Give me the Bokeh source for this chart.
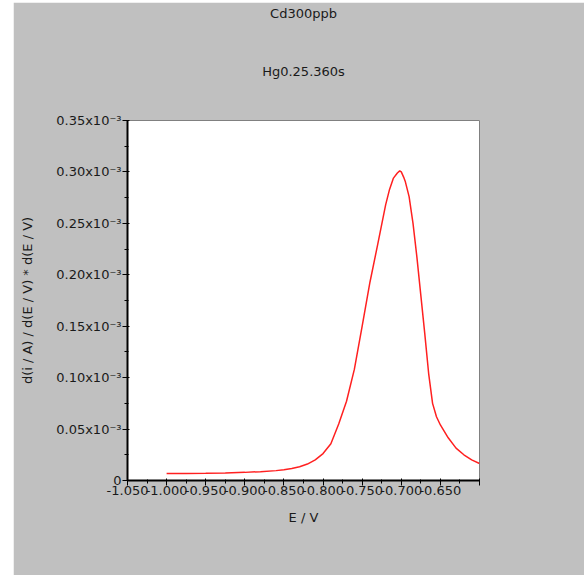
from bokeh.plotting import figure
from bokeh.models import (FixedTicker, CustomJSTickFormatter, Range1d, Spacer, Title)
from bokeh.layouts import row, column
from bokeh.embed import file_html
from bokeh.resources import INLINE

# ---- data ----
title_top = "Cd300ppb"
title_sub = "Hg0.25.360s"
x_label = "E / V"
y_label = "d(i / A) / d(E / V) * d(E / V)"

potential = [-1.000, -0.975, -0.950, -0.925, -0.900, -0.880, -0.860, -0.850, -0.840,
             -0.830, -0.820, -0.810, -0.800, -0.790, -0.780, -0.770, -0.760, -0.750,
             -0.740, -0.730, -0.720, -0.715, -0.710, -0.705, -0.702, -0.700, -0.697,
             -0.695, -0.690, -0.685, -0.680, -0.675, -0.670, -0.665, -0.660, -0.655,
             -0.650, -0.640, -0.630, -0.620, -0.610, -0.600]
# derivative current in units of 1e-3
current_e3 = [0.0068, 0.0069, 0.0071, 0.0074, 0.0079, 0.0086, 0.0096, 0.0104, 0.0116,
              0.0134, 0.0160, 0.0200, 0.0262, 0.0357, 0.0550, 0.0770, 0.1080, 0.1500,
              0.1930, 0.2300, 0.2680, 0.2830, 0.2940, 0.2990, 0.3010, 0.3000, 0.2950,
              0.2910, 0.2760, 0.2500, 0.2170, 0.1800, 0.1430, 0.1040, 0.0750, 0.0620,
              0.0540, 0.0415, 0.0315, 0.0250, 0.0200, 0.0165]

x_major = [-1.05, -1.00, -0.95, -0.90, -0.85, -0.80, -0.75, -0.70, -0.65, -0.60]
x_minor = [-1.025, -0.975, -0.925, -0.875, -0.825, -0.775, -0.725, -0.675, -0.625]
y_major_e3 = [0.0, 0.05, 0.10, 0.15, 0.20, 0.25, 0.30, 0.35]
y_minor_e3 = [0.025, 0.075, 0.125, 0.175, 0.225, 0.275, 0.325]

current = [v * 1e-3 for v in current_e3]
y_major = [v * 1e-3 for v in y_major_e3]
y_minor = [v * 1e-3 for v in y_minor_e3]

FONT = "DejaVu Sans"
GRAY = "#c0c0c0"
TXT = "#1a1a1a"
FS = "13px"

p = figure(width=571, height=573, output_backend="svg", toolbar_location=None,
           x_range=Range1d(-1.05, -0.60), y_range=Range1d(0, 0.35e-3),
           frame_width=352, frame_height=360,
           min_border_left=114, min_border_right=105, min_border_top=118, min_border_bottom=95)
p.border_fill_color = GRAY
p.background_fill_color = "white"
p.outline_line_color = "#808080"
p.outline_line_width = 1
p.xgrid.visible = False
p.ygrid.visible = False

p.line(potential, current, line_color="#ff2020", line_width=1.5)

for ax in (p.xaxis[0], p.yaxis[0]):
    ax.axis_line_color = "black"
    ax.axis_line_width = 2
    ax.major_tick_line_color = "black"
    ax.minor_tick_line_color = "black"
    ax.major_tick_line_width = 1
    ax.minor_tick_line_width = 1
    ax.major_tick_out = 5
    ax.major_tick_in = 2
    ax.minor_tick_out = 3
    ax.minor_tick_in = 1
    ax.major_label_text_font = FONT
    ax.major_label_text_font_size = FS
    ax.major_label_text_color = TXT
    ax.axis_label_text_font = FONT
    ax.axis_label_text_font_size = FS
    ax.axis_label_text_font_style = "normal"
    ax.axis_label_text_color = TXT

p.xaxis[0].ticker = FixedTicker(ticks=x_major, minor_ticks=x_minor)
p.xaxis[0].formatter = CustomJSTickFormatter(code="""
    if (Math.abs(tick + 0.6) < 1e-6) { return ""; }
    return tick.toFixed(3);
""")
p.xaxis[0].axis_label = x_label
p.xaxis[0].major_label_standoff = 0
p.xaxis[0].axis_label_standoff = 12

p.yaxis[0].ticker = FixedTicker(ticks=y_major, minor_ticks=y_minor)
p.yaxis[0].formatter = CustomJSTickFormatter(code="""
    if (Math.abs(tick) < 1e-12) { return "0"; }
    return (tick * 1000).toFixed(2) + "x10\u207b\u00b3";
""")
p.yaxis[0].axis_label = y_label
p.yaxis[0].major_label_standoff = 1
p.yaxis[0].axis_label_standoff = 18

p.add_layout(Title(text=title_sub, align="center", standoff=83, text_font=FONT,
                   text_font_size=FS, text_font_style="normal", text_color=TXT), "above")
p.add_layout(Title(text=title_top, align="center", standoff=0, text_font=FONT,
                   text_font_size=FS, text_font_style="normal", text_color=TXT), "above")

layout = column(Spacer(width=584, height=2), row(Spacer(width=13, height=573), p))
open("out.html", "w").write(file_html(layout, INLINE))
